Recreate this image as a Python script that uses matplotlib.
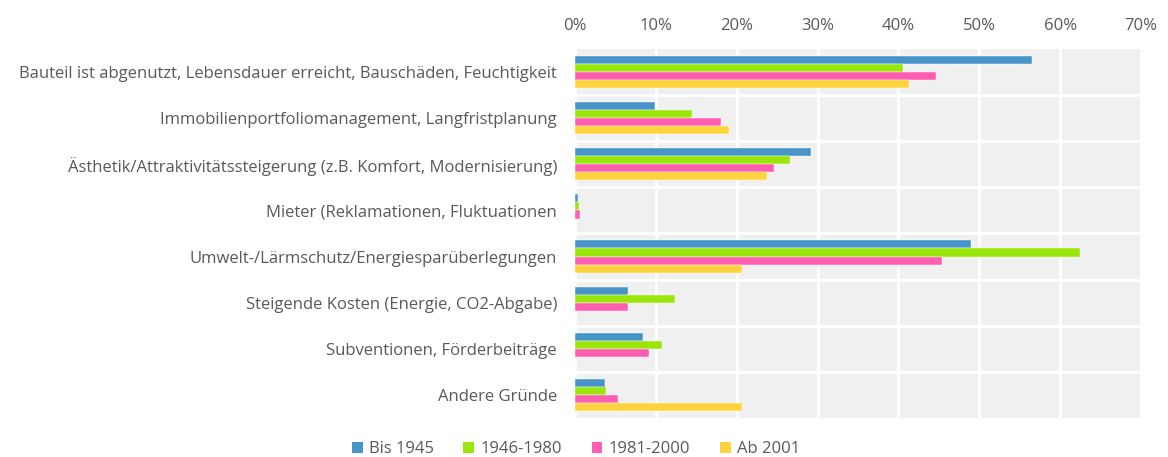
import matplotlib
matplotlib.use("Agg")
import matplotlib.pyplot as plt
import numpy as np
from matplotlib.ticker import FixedLocator, PercentFormatter
from matplotlib.patches import Patch

categories = [
    "Bauteil ist abgenutzt, Lebensdauer erreicht, Bauschäden, Feuchtigkeit",
    "Immobilienportfoliomanagement, Langfristplanung",
    "Ästhetik/Attraktivitätssteigerung (z.B. Komfort, Modernisierung)",
    "Mieter (Reklamationen, Fluktuationen",
    "Umwelt-/Lärmschutz/Energiesparüberlegungen",
    "Steigende Kosten (Energie, CO2-Abgabe)",
    "Subventionen, Förderbeiträge",
    "Andere Gründe",
]
series_names = ["Bis 1945", "1946-1980", "1981-2000", "Ab 2001"]
bis_1945 = [56.5, 9.9, 29.2, 0.4, 49.0, 6.6, 8.4, 3.7]
s_1946_1980 = [40.6, 14.5, 26.6, 0.5, 62.5, 12.4, 10.7, 3.8]
s_1981_2000 = [44.7, 18.0, 24.6, 0.6, 45.4, 6.6, 9.2, 5.3]
ab_2001 = [41.3, 19.0, 23.8, 0.0, 20.6, 0.0, 0.0, 20.6]
colors = ["#4795C8", "#9BE60A", "#FF5DAF", "#FFD33C"]
x_ticks = [0, 10, 20, 30, 40, 50, 60, 70]

plt.rcParams['font.family'] = ['Open Sans', 'DejaVu Sans']
txt = "#595959"

fig = plt.figure(figsize=(11.68, 4.57), dpi=100)
ax = fig.add_axes([575/1168, 1 - 418/457, (1141-575)/1168, (418-49)/457])
ax.set_facecolor("#F0F0F0")

data = [bis_1945, s_1946_1980, s_1981_2000, ab_2001]
n = len(categories)
y = np.arange(n)
bh = 0.175
for i, (vals, c) in enumerate(zip(data, colors)):
    ax.barh(y - 1.5*bh + i*bh, vals, height=bh, color=c, edgecolor='white',
            linewidth=0.3, zorder=3)

ax.set_xlim(0, 70)
ax.set_ylim(n - 0.5, -0.5)
ax.xaxis.tick_top()
ax.xaxis.set_major_locator(FixedLocator(x_ticks))
ax.xaxis.set_major_formatter(PercentFormatter(decimals=0))
ax.set_yticks(y)
ax.set_yticklabels(categories)
ax.yaxis.set_minor_locator(FixedLocator(np.arange(0.5, n - 0.5, 1.0)))
ax.grid(axis='x', which='major', color='white', linewidth=2, zorder=1)
ax.grid(axis='y', which='minor', color='white', linewidth=2, zorder=1)
ax.tick_params(axis='both', which='both', length=0, colors=txt, labelsize=12)
ax.tick_params(axis='x', pad=11)
ax.tick_params(axis='y', pad=13)
for s in ax.spines.values():
    s.set_visible(False)

handles = [Patch(facecolor=c, edgecolor='none') for c in colors]
fig.legend(handles, series_names, loc='center', bbox_to_anchor=(576/1168, 1 - 449/457),
           ncol=4, frameon=False, fontsize=12, labelcolor=txt,
           handlelength=0.65, handleheight=0.65, handletextpad=0.4, columnspacing=1.75)

fig.savefig("out.png", dpi=100)
